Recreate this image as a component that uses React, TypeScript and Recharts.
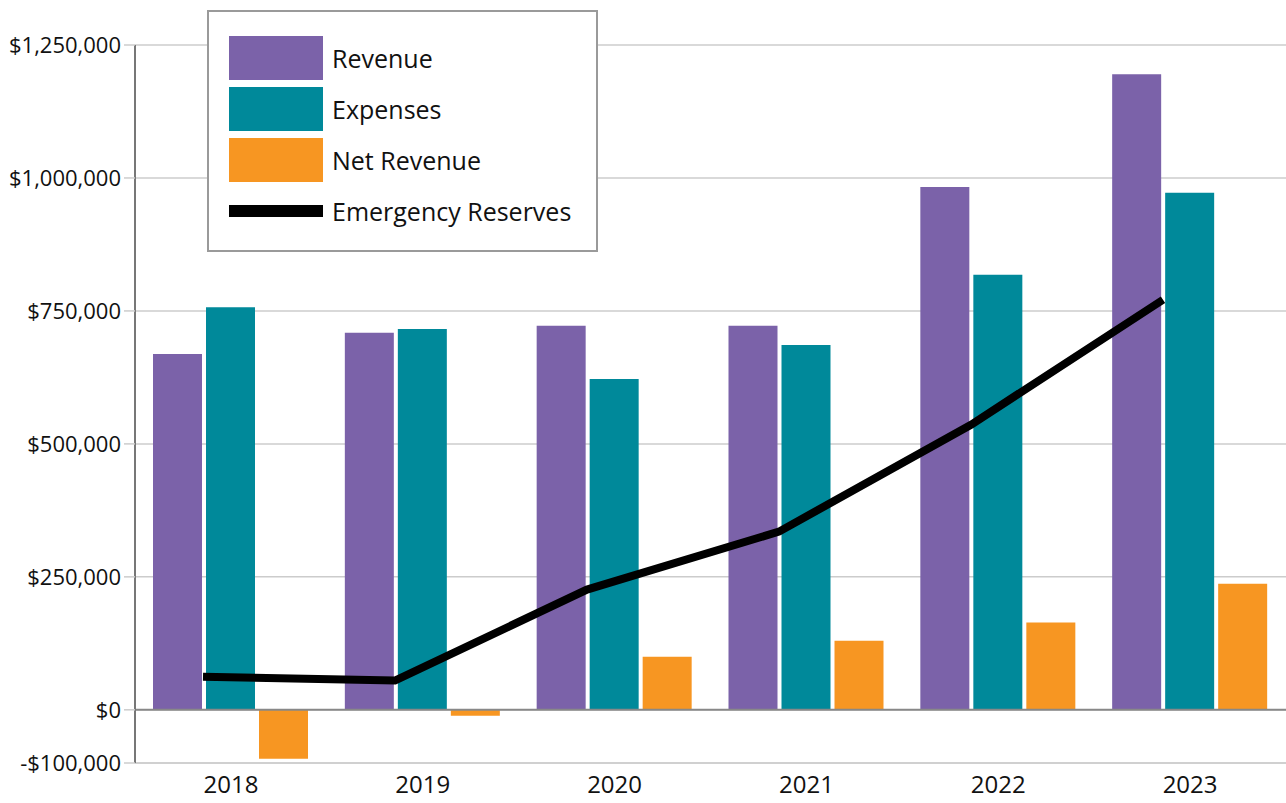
import { ComposedChart, Bar, Line, XAxis, YAxis, CartesianGrid, ReferenceLine, Legend } from 'recharts';

const years = ['2018', '2019', '2020', '2021', '2022', '2023'];
const revenue = [669000, 709000, 722000, 722000, 983000, 1195000];
const expenses = [757000, 716000, 622000, 686000, 818000, 972000];
const netRevenue = [-92000, -11000, 100000, 130000, 164000, 237000];
const reserves = [62000, 55000, 226000, 335000, 536000, 771000];
const yTicks = [-100000, 0, 250000, 500000, 750000, 1000000, 1250000];

const data = years.map((year, i) => ({
  year,
  revenue: revenue[i],
  expenses: expenses[i],
  netRevenue: netRevenue[i],
  reserves: reserves[i],
}));

const PURPLE = '#7b62a9';
const TEAL = '#00899a';
const ORANGE = '#f79622';
const FONT = '"Open Sans", sans-serif';

const fmtMoney = (v: number) =>
  (v < 0 ? '-$' : '$') + Math.abs(v).toLocaleString('en-US');

const legendItems = [
  { label: 'Revenue', color: PURPLE, kind: 'box' },
  { label: 'Expenses', color: TEAL, kind: 'box' },
  { label: 'Net Revenue', color: ORANGE, kind: 'box' },
  { label: 'Emergency Reserves', color: '#000', kind: 'line' },
];

const LegendBox = () => (
  <div
    style={{
      width: 391,
      height: 242,
      boxSizing: 'border-box',
      border: '2px solid #9a9a9a',
      background: '#fff',
      paddingTop: 24,
      paddingLeft: 20,
      fontFamily: FONT,
    }}
  >
    {legendItems.map((item) => (
      <div key={item.label} style={{ display: 'flex', alignItems: 'center', height: 44, marginBottom: 7 }}>
        <div style={{ width: 94, height: item.kind === 'box' ? 44 : 12, background: item.color, flexShrink: 0 }} />
        <span style={{ marginLeft: 9, fontSize: 25, color: '#111', whiteSpace: 'nowrap' }}>{item.label}</span>
      </div>
    ))}
  </div>
);

export default function App() {
  return (
    <div style={{ width: 1286, height: 803, position: 'relative' }}>
      <style>{'body{margin:0}'}</style>
      <ComposedChart
        width={1286}
        height={803}
        data={data}
        margin={{ top: 45, right: 0, bottom: 0, left: 0 }}
        barGap={4}
      >
        <CartesianGrid vertical={false} stroke="#cccccc" strokeWidth={1.5} />
        <XAxis
          dataKey="year"
          axisLine={{ stroke: '#cccccc', strokeWidth: 1.5 }}
          tickLine={false}
          tickSize={0}
          tickMargin={13}
          height={40}
          tick={{ fontFamily: FONT, fontSize: 24, fill: '#111' }}
        />
        <XAxis
          xAxisId="line"
          dataKey="year"
          scale="point"
          padding={{ left: 68, right: 123 }}
          hide
        />
        <YAxis
          width={135}
          domain={[-100000, 1250000]}
          ticks={yTicks}
          interval={0}
          tickFormatter={fmtMoney}
          axisLine={{ stroke: '#777', strokeWidth: 2 }}
          tickLine={{ stroke: '#cccccc', strokeWidth: 1.5 }}
          tickSize={11}
          tickMargin={3}
          tick={{ fontFamily: FONT, fontSize: 22, fill: '#111' }}
        />
        <ReferenceLine y={0} stroke="#888" strokeWidth={2} />
        <Bar dataKey="revenue" name="Revenue" fill={PURPLE} barSize={49} isAnimationActive={false} />
        <Bar dataKey="expenses" name="Expenses" fill={TEAL} barSize={49} isAnimationActive={false} />
        <Bar dataKey="netRevenue" name="Net Revenue" fill={ORANGE} barSize={49} isAnimationActive={false} />
        <Line
          xAxisId="line"
          dataKey="reserves"
          name="Emergency Reserves"
          type="linear"
          stroke="#000"
          strokeWidth={8}
          dot={false}
          activeDot={false}
          isAnimationActive={false}
        />
        <Legend
          layout="horizontal"
          verticalAlign="middle"
          align="center"
          content={<LegendBox />}
          wrapperStyle={{ left: 207, top: 10, width: 391, height: 242 }}
        />
      </ComposedChart>
    </div>
  );
}
